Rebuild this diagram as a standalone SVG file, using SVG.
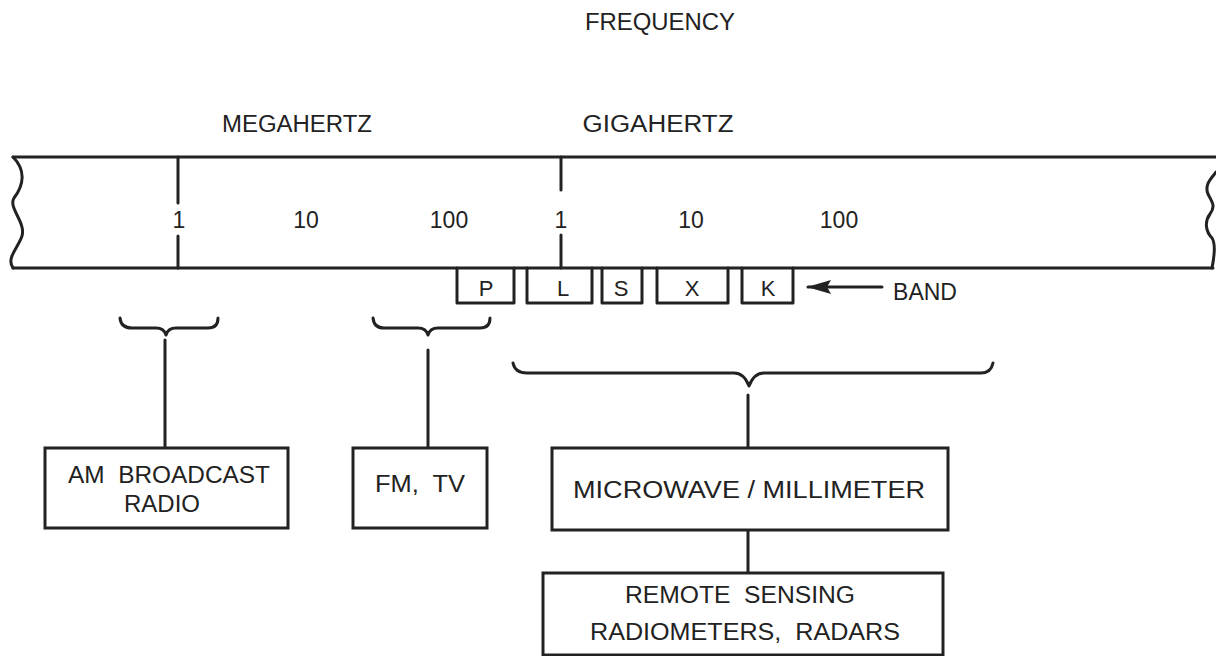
<svg xmlns="http://www.w3.org/2000/svg" width="1216" height="656" viewBox="0 0 1216 656">
<defs>
<style>
.ln{fill:none;stroke:#222;stroke-width:3;stroke-linecap:round;stroke-linejoin:round}
.bx{fill:#fff;stroke:#222;stroke-width:3}
.t{font-family:"Liberation Sans",Arial,sans-serif;font-size:23px;fill:#222;text-anchor:middle}
.s{font-size:22px}
</style>
<marker id="ah" markerWidth="24" markerHeight="16" refX="23" refY="8" orient="auto" markerUnits="userSpaceOnUse">
<path d="M24,8 L0,1 L4,8 L0,15 Z" fill="#222"/>
</marker>
</defs>
<rect width="1216" height="656" fill="#fff"/>

<g id="scale">
<path class="ln" d="M13,157 H1216"/>
<path class="ln" d="M13,268 H1213"/>
<path class="ln" d="M13,157 C26,170 24,185 14,198 C8,208 26,222 22,236 C18,248 6,258 13,268"/>
<path class="ln" d="M1216,172 C1212,178 1204,184 1208,194 C1212,202 1216,206 1210,214 C1204,222 1206,232 1212,238 C1216,244 1214,258 1212,268"/>
<path class="ln" d="M178,157 V203 M178,236 V268"/>
<path class="ln" d="M561,157 V190 M561,235 V268"/>
<text class="t" x="179" y="228">1</text>
<text class="t" x="306" y="228">10</text>
<text class="t" x="449" y="228">100</text>
<text class="t" x="561" y="228">1</text>
<text class="t" x="691" y="228">10</text>
<text class="t" x="839" y="228">100</text>
</g>

<g id="titles">
<text class="t" x="660" y="30" textLength="150" lengthAdjust="spacingAndGlyphs">FREQUENCY</text>
<text class="t" x="297" y="132" textLength="150" lengthAdjust="spacingAndGlyphs">MEGAHERTZ</text>
<text class="t" x="658" y="132" textLength="151" lengthAdjust="spacingAndGlyphs">GIGAHERTZ</text>
</g>

<g id="bands">
<path class="ln" d="M457,268 V303 H514 V268"/>
<path class="ln" d="M527,268 V303 H592 V268"/>
<path class="ln" d="M602,268 V303 H642 V268"/>
<path class="ln" d="M657,268 V303 H728 V268"/>
<path class="ln" d="M742,268 V303 H793 V268"/>
<text class="t s" x="486" y="296">P</text>
<text class="t s" x="563" y="296">L</text>
<text class="t s" x="621" y="296">S</text>
<text class="t s" x="692" y="296">X</text>
<text class="t s" x="768" y="296">K</text>
<text class="t" x="925" y="300">BAND</text>
</g>

<g id="braces">
<path class="ln" d="M120,318 Q121,328 132,328 H156 Q164,328 166,335 Q168,328 176,328 H208 Q218,328 218,318"/>
<path class="ln" d="M373,318 Q374,328 384,328 H418 Q426,328 428,335 Q430,328 438,328 H480 Q490,328 490,318"/>
<path class="ln" d="M513,363 Q515,373 527,373 H734 Q744,373 749,386 Q754,373 764,373 H981 Q991,373 993,363"/>
</g>

<g id="connectors">
<path class="ln" d="M882,287 H808" marker-end="url(#ah)"/>
<path class="ln" d="M165,340 V448"/>
<path class="ln" d="M428,350 V448"/>
<path class="ln" d="M748,395 V448"/>
<path class="ln" d="M748,530 V573"/>
</g>

<g id="am">
<rect class="bx" x="45" y="448" width="243" height="80"/>
<text class="t" x="169" y="483" textLength="202" lengthAdjust="spacingAndGlyphs" xml:space="preserve">AM  BROADCAST</text>
<text class="t" x="162" y="512" textLength="76" lengthAdjust="spacingAndGlyphs">RADIO</text>
</g>

<g id="fm">
<rect class="bx" x="353" y="448" width="134" height="80"/>
<text class="t" x="420" y="492" textLength="90" lengthAdjust="spacingAndGlyphs" xml:space="preserve">FM,  TV</text>
</g>

<g id="microwave">
<rect class="bx" x="552" y="448" width="396" height="82"/>
<text class="t" x="749" y="498" textLength="352" lengthAdjust="spacingAndGlyphs">MICROWAVE / MILLIMETER</text>
</g>

<g id="remote">
<rect class="bx" x="543" y="573" width="400" height="82"/>
<text class="t" x="740" y="603" textLength="230" lengthAdjust="spacingAndGlyphs" xml:space="preserve">REMOTE  SENSING</text>
<text class="t" x="745" y="640" textLength="310" lengthAdjust="spacingAndGlyphs" xml:space="preserve">RADIOMETERS,  RADARS</text>
</g>
</svg>
